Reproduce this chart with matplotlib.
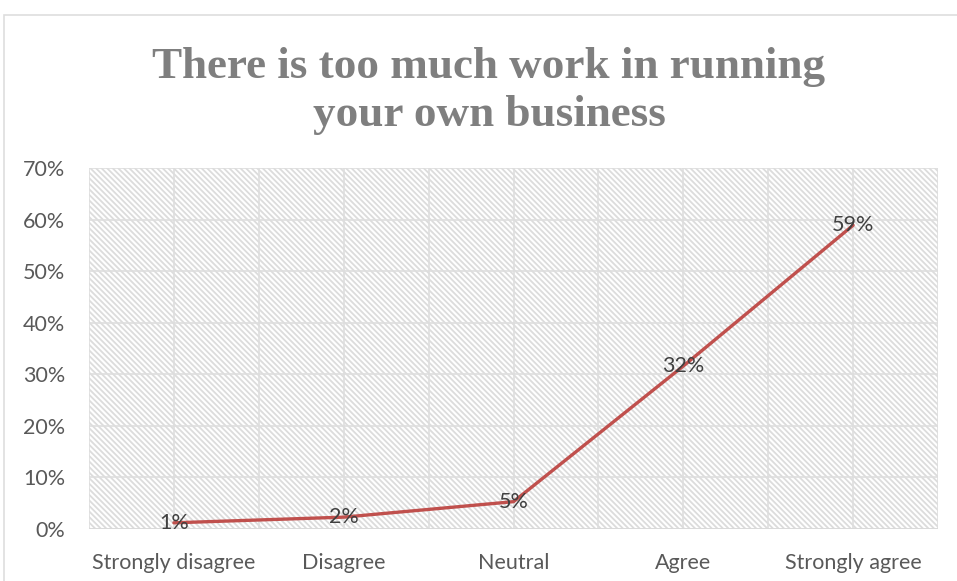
import matplotlib
matplotlib.use("Agg")
import matplotlib.pyplot as plt
from matplotlib.patches import Rectangle

categories = ["Strongly disagree", "Disagree", "Neutral", "Agree", "Strongly agree"]
shares = [0.012, 0.023, 0.053, 0.316, 0.589]
share_labels = ["1%", "2%", "5%", "32%", "59%"]
y_ticks = [0, 0.1, 0.2, 0.3, 0.4, 0.5, 0.6, 0.7]
y_tick_labels = ["0%", "10%", "20%", "30%", "40%", "50%", "60%", "70%"]

title = "There is too much work in running\nyour own business"

grid_col = "#dedede"
text_col = "#595959"

fig = plt.figure(figsize=(9.57, 5.81), dpi=100)
fig.patch.set_facecolor("white")

# outer chart frame
fig.add_artist(Rectangle((4 / 957, -0.1), 1.1, (581 - 15) / 581 + 0.1,
                         transform=fig.transFigure, fill=False,
                         edgecolor=grid_col, linewidth=1.2))

ax = fig.add_axes([89 / 957, 52 / 581, (938 - 89) / 957, (529 - 168) / 581])
x = list(range(len(categories)))
ax.set_xlim(-0.5, len(categories) - 0.5)
ax.set_ylim(0, 0.7)

# hatched plot area
plt.rcParams["hatch.linewidth"] = 1.3
ax.add_patch(Rectangle((0, 0), 1, 1, transform=ax.transAxes, facecolor="white",
                       edgecolor="#dcdcdc", linewidth=0, hatch="\\" * 6, zorder=0))

for gx in [i * 0.5 - 0.5 for i in range(2 * len(categories) + 1)]:
    ax.axvline(gx, color=grid_col, linewidth=1.2, zorder=1)
for gy in y_ticks:
    ax.axhline(gy, color=grid_col, linewidth=1.2, zorder=1)
ax.axhline(0, color="#d9d9d9", linewidth=2, zorder=1)

ax.plot(x, shares, color="#c0504d", linewidth=2.4, solid_capstyle="round", zorder=3)
for xi, v, lab in zip(x, shares, share_labels):
    ax.text(xi, v, lab, ha="center", va="center", fontsize=15.5,
            family="Lato", color="#404040", zorder=4)

for s in ax.spines.values():
    s.set_visible(False)
ax.set_xticks(x)
ax.set_xticklabels(categories, family="Lato", fontsize=15.5, color=text_col)
ax.set_yticks(y_ticks)
ax.set_yticklabels(y_tick_labels, family="Lato", fontsize=15.5, color=text_col)
ax.tick_params(axis="x", length=0, pad=17)
ax.tick_params(axis="y", length=0, pad=17)

fig.text(489 / 957, 1 - 91 / 581, title, ha="center", va="center",
         family="Liberation Serif", fontweight="bold", fontsize=32.5,
         color="#7f7f7f", linespacing=1.27)

fig.savefig("out.png", dpi=100)
